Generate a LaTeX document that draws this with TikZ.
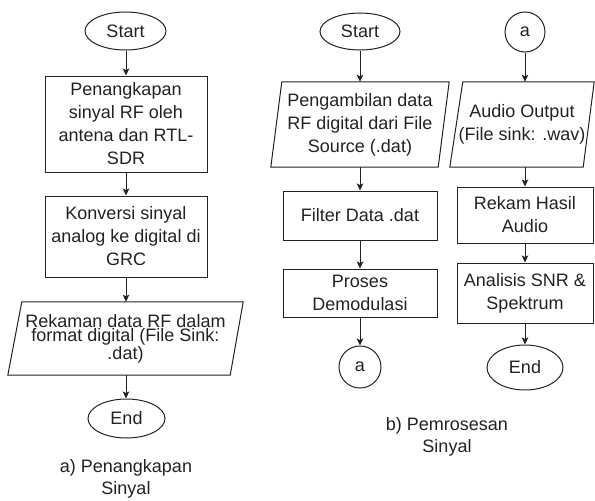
\documentclass[tikz,border=0pt]{standalone}
\usepackage{fontspec}
\setmainfont{Liberation Sans}
\usetikzlibrary{arrows.meta, shapes.geometric}
\definecolor{ink}{HTML}{222222}
\tikzset{
  every node/.style={font=\fontsize{18}{23}\selectfont, text=ink, align=center, inner sep=0pt},
  outline/.style={draw=ink, line width=1pt},
  proc/.style={rectangle, outline},
  term/.style={ellipse, outline},
  conn/.style={circle, outline},
  io/.style={rectangle, draw=none},
  arr/.style={draw=ink, line width=1pt, -{Stealth[length=7pt, width=6.5pt, inset=1.5pt]}},
  caption/.style={font=\fontsize{18}{22}\selectfont},
}
\begin{document}
\begin{tikzpicture}[x=1pt, y=-1pt]
\useasboundingbox (0,0) rectangle (595,501);

% ---- a) signal capture ----
\node[term, minimum width=81, minimum height=38] (sa) at (125.5,31) {Start};
\node[proc, minimum width=162, minimum height=96] (a1) at (126,124) {Penangkapan\\sinyal RF oleh\\antena dan RTL-\\SDR};
\node[proc, minimum width=162, minimum height=81] (a2) at (126,236.5) {Konversi sinyal\\analog ke digital di\\GRC};
\node[io, minimum width=235, minimum height=73, font=\fontsize{18}{14}\selectfont] (a3) at (125.5,338.5) {Rekaman data RF dalam\\format digital (File Sink:\\.dat)};
\draw[outline] ([xshift=14]a3.north west) -- (a3.north east) -- ([xshift=-13]a3.south east) -- (a3.south west) -- cycle;
\node[term, minimum width=77, minimum height=39] (ea) at (126.5,418.5) {End};
\node[caption] (capa) at (126,479) {a) Penangkapan\\Sinyal};

\draw[arr] (sa.south -| a1) -- (a1);
\draw[arr] (a1) -- (a2);
\draw[arr] (a2) -- (a3.north -| a2);
\draw[arr] (a3.south -| a2) -- (ea.north -| a2);

% ---- b) signal processing, first column ----
\node[term, minimum width=80, minimum height=37] (sb) at (360,31.5) {Start};
\node[io, minimum width=178, minimum height=85] (b1) at (360,124.5) {Pengambilan data\\RF digital dari File\\Source (.dat)};
\draw[outline] ([xshift=11]b1.north west) -- (b1.north east) -- ([xshift=-11]b1.south east) -- (b1.south west) -- cycle;
\node[proc, minimum width=154, minimum height=49] (b2) at (360,215.5) {Filter Data .dat};
\node[proc, minimum width=154, minimum height=48] (b3) at (360,293) {Proses\\Demodulasi};
\node[conn, minimum size=42] (ca1) at (360,367) {a};

\draw[arr] (sb) -- (b1);
\draw[arr] (b1) -- (b2);
\draw[arr] (b2) -- (b3);
\draw[arr] (b3) -- (ca1);

% ---- b) signal processing, second column ----
\node[conn, minimum size=40] (ca2) at (525,32) {a};
\node[io, minimum width=144, minimum height=85] (c1) at (522,124.5) {Audio Output\\(File sink: .wav)};
\draw[outline] ([xshift=13]c1.north west) -- (c1.north east) -- ([xshift=-11]c1.south east) -- (c1.south west) -- cycle;
\node[proc, minimum width=136, minimum height=56] (c2) at (525,215) {Rekam Hasil\\Audio};
\node[proc, minimum width=136, minimum height=60] (c3) at (525,293) {Analisis SNR \&\\Spektrum};
\node[term, minimum width=76, minimum height=45] (eb) at (525,367.5) {End};
\node[caption] (capb) at (447,436.5) {b) Pemrosesan\\Sinyal};

\draw[arr] (ca2) -- (ca2 |- c1.north);
\draw[arr] (c1.south -| c2) -- (c2);
\draw[arr] (c2) -- (c3);
\draw[arr] (c3) -- (eb);
\end{tikzpicture}
\end{document}
